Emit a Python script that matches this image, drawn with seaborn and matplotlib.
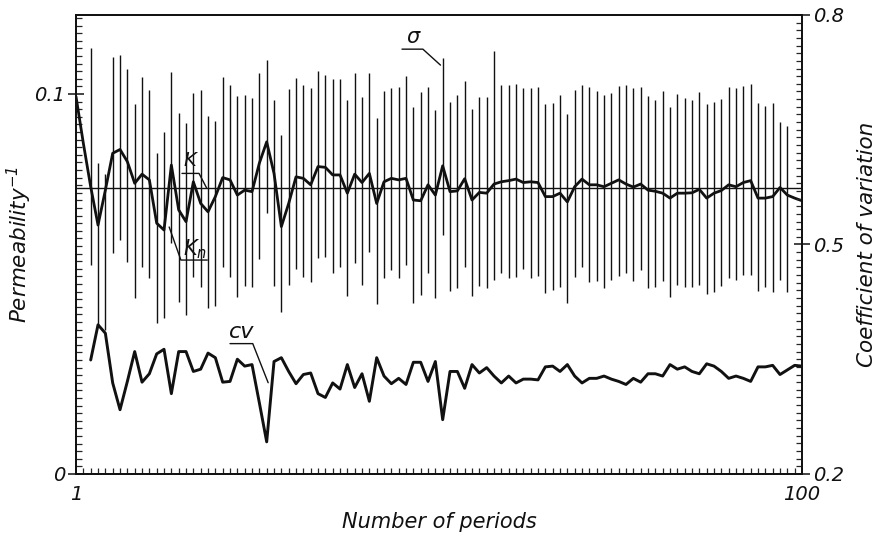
import numpy as np
import pandas as pd
import matplotlib
matplotlib.use("Agg")
import matplotlib.pyplot as plt
from matplotlib.ticker import MultipleLocator, FixedLocator, FixedFormatter
import seaborn as sns

sns.set_style("ticks")
plt.rcParams["font.family"] = ["DejaVu Sans"]
plt.rcParams["font.style"] = "italic"
plt.rcParams["mathtext.fontset"] = "dejavusans"
plt.rcParams["mathtext.default"] = "it"

# ---------------- data ----------------
periods = list(range(1, 101))

kn = [0.0993, 0.0870, 0.0756, 0.0655, 0.0747, 0.0844, 0.0854, 0.0822, 0.0765, 0.0789,
      0.0774, 0.0660, 0.0642, 0.0813, 0.0695, 0.0664, 0.0769, 0.0712, 0.0690, 0.0730,
      0.0780, 0.0774, 0.0734, 0.0747, 0.0743, 0.0818, 0.0874, 0.0791, 0.0651, 0.0712,
      0.0782, 0.0778, 0.0761, 0.0809, 0.0807, 0.0787, 0.0787, 0.0739, 0.0789, 0.0767,
      0.0791, 0.0712, 0.0769, 0.0778, 0.0774, 0.0778, 0.0721, 0.0719, 0.0761, 0.0734,
      0.0811, 0.0743, 0.0745, 0.0777, 0.0721, 0.0741, 0.0739, 0.0763, 0.0769, 0.0772,
      0.0776, 0.0767, 0.0769, 0.0767, 0.0730, 0.0730, 0.0739, 0.0716, 0.0756, 0.0776,
      0.0761, 0.0761, 0.0756, 0.0765, 0.0774, 0.0763, 0.0755, 0.0763, 0.0747, 0.0744,
      0.0739, 0.0726, 0.0739, 0.0739, 0.0740, 0.0749, 0.0726, 0.0739, 0.0746, 0.0761,
      0.0756, 0.0767, 0.0772, 0.0726, 0.0726, 0.0730, 0.0754, 0.0734, 0.0726, 0.0719]

k_mean = 0.0753

sigma_periods = list(range(3, 99))
sigma_high = [0.1120, 0.0818, 0.0789, 0.1097, 0.1103, 0.1065, 0.0974, 0.1046, 0.1011, 0.0846,
              0.0901, 0.1059, 0.0949, 0.0923, 0.1002, 0.1011, 0.0942, 0.0930, 0.1044, 0.1024,
              0.0995, 0.0997, 0.0989, 0.1054, 0.1089, 0.0984, 0.0892, 0.1012, 0.1043, 0.1024,
              0.1015, 0.1061, 0.1050, 0.1039, 0.1039, 0.0984, 0.1054, 0.0993, 0.1054, 0.0936,
              0.1008, 0.1015, 0.1018, 0.1047, 0.0965, 0.1006, 0.1019, 0.0958, 0.1094, 0.0980,
              0.0997, 0.1035, 0.0961, 0.0993, 0.0993, 0.1114, 0.1024, 0.1024, 0.1026, 0.1015,
              0.1015, 0.1019, 0.0974, 0.0977, 0.0997, 0.0947, 0.1011, 0.1024, 0.1018, 0.1009,
              0.0997, 0.1003, 0.1021, 0.1024, 0.1015, 0.1019, 0.0995, 0.0984, 0.1009, 0.0967,
              0.1000, 0.0989, 0.0984, 0.1004, 0.0974, 0.0980, 0.0987, 0.1018, 0.1015, 0.1022,
              0.1026, 0.0976, 0.0968, 0.0976, 0.0926, 0.0917]
sigma_low = [0.0550, 0.0387, 0.0379, 0.0582, 0.0616, 0.0559, 0.0462, 0.0546, 0.0515, 0.0397,
             0.0410, 0.0607, 0.0453, 0.0418, 0.0519, 0.0493, 0.0436, 0.0442, 0.0546, 0.0518,
             0.0467, 0.0495, 0.0491, 0.0565, 0.0686, 0.0495, 0.0427, 0.0497, 0.0539, 0.0519,
             0.0506, 0.0568, 0.0572, 0.0528, 0.0546, 0.0468, 0.0554, 0.0497, 0.0585, 0.0447,
             0.0515, 0.0537, 0.0515, 0.0550, 0.0449, 0.0471, 0.0530, 0.0462, 0.0629, 0.0482,
             0.0489, 0.0544, 0.0469, 0.0495, 0.0489, 0.0511, 0.0528, 0.0515, 0.0519, 0.0539,
             0.0515, 0.0521, 0.0476, 0.0484, 0.0493, 0.0449, 0.0519, 0.0546, 0.0506, 0.0509,
             0.0489, 0.0511, 0.0521, 0.0528, 0.0509, 0.0537, 0.0489, 0.0491, 0.0509, 0.0467,
             0.0497, 0.0493, 0.0491, 0.0497, 0.0474, 0.0480, 0.0495, 0.0515, 0.0511, 0.0524,
             0.0524, 0.0482, 0.0491, 0.0480, 0.0511, 0.0480]

cv_periods = list(range(3, 101))
cv = [0.349, 0.395, 0.384, 0.319, 0.284, 0.321, 0.360, 0.320, 0.331, 0.357,
      0.363, 0.305, 0.360, 0.360, 0.334, 0.337, 0.358, 0.352, 0.320, 0.321,
      0.350, 0.341, 0.343, 0.293, 0.242, 0.347, 0.352, 0.334, 0.318, 0.330,
      0.332, 0.305, 0.300, 0.319, 0.311, 0.343, 0.313, 0.331, 0.295, 0.352,
      0.328, 0.318, 0.325, 0.317, 0.346, 0.346, 0.321, 0.347, 0.271, 0.334,
      0.334, 0.312, 0.343, 0.332, 0.339, 0.328, 0.319, 0.328, 0.319, 0.324,
      0.324, 0.323, 0.340, 0.341, 0.334, 0.343, 0.328, 0.319, 0.325, 0.325,
      0.328, 0.324, 0.321, 0.317, 0.325, 0.320, 0.331, 0.331, 0.328, 0.343,
      0.337, 0.340, 0.334, 0.331, 0.344, 0.341, 0.334, 0.325, 0.328, 0.325,
      0.321, 0.340, 0.340, 0.342, 0.330, 0.336, 0.342, 0.341]

x_ticks = [1, 100]
left_ticks = [0, 0.1]
right_ticks = [0.2, 0.5, 0.8]

# ---------------- figure ----------------
fig = plt.figure(figsize=(8.82, 5.42), dpi=100)
ax = fig.add_axes([0.0862, 0.1255, 0.8231, 0.8469])
ax2 = ax.twinx()

ink = "#111111"
df_kn = pd.DataFrame({"n": periods, "kn": kn})
df_cv = pd.DataFrame({"n": cv_periods, "cv": cv})

ax.vlines(sigma_periods, sigma_low, sigma_high, color=ink, lw=1.0, zorder=2)
ax.axhline(k_mean, color=ink, lw=1.0, zorder=2)
sns.lineplot(data=df_kn, x="n", y="kn", ax=ax, color=ink, lw=2.0, zorder=3)
sns.lineplot(data=df_cv, x="n", y="cv", ax=ax2, color=ink, lw=2.1, zorder=3)

ax.set_xlim(1, 100)
ax.set_ylim(0, 0.1208)
ax2.set_ylim(0.2, 0.8)

for a in (ax, ax2):
    for s in a.spines.values():
        s.set_visible(True)
        s.set_linewidth(1.3)
        s.set_color(ink)

# x ticks
ax.xaxis.set_major_locator(FixedLocator(x_ticks))
ax.xaxis.set_major_formatter(FixedFormatter([str(v) for v in x_ticks]))
ax.xaxis.set_minor_locator(MultipleLocator(1))
ax.tick_params(axis="x", which="major", direction="in", length=8, width=1.1, pad=8,
               labelsize=14, colors=ink)
ax.tick_params(axis="x", which="minor", direction="in", length=4, width=0.9)

# left y ticks
ax.yaxis.set_major_locator(FixedLocator(left_ticks))
ax.yaxis.set_major_formatter(FixedFormatter(["0", "0.1"]))
ax.yaxis.set_minor_locator(MultipleLocator(0.002))
ax.tick_params(axis="y", which="major", direction="inout", length=12, width=1.1, pad=2,
               labelsize=14, colors=ink)
ax.tick_params(axis="y", which="minor", direction="in", length=4, width=0.9)

# right y ticks
ax2.yaxis.set_major_locator(FixedLocator(right_ticks))
ax2.yaxis.set_major_formatter(FixedFormatter([str(v) for v in right_ticks]))
ax2.yaxis.set_minor_locator(MultipleLocator(0.01))
ax2.tick_params(axis="y", which="major", direction="inout", length=12, width=1.1, pad=2,
                labelsize=14, colors=ink)
ax2.tick_params(axis="y", which="minor", direction="in", length=4, width=0.9)

for lab in ax.get_xticklabels() + ax.get_yticklabels() + ax2.get_yticklabels():
    lab.set_fontstyle("italic")

ax.set_xlabel("Number of periods", fontsize=15, style="italic", color=ink)
ax.set_ylabel("Permeability$^{-1}$", fontsize=15.5, style="italic", color=ink)
ax2.set_ylabel("Coefficient of variation", fontsize=15.5, style="italic", color=ink,
               rotation=90)
ax.xaxis.set_label_coords(0.5, -0.083)
ax.yaxis.set_label_coords(-0.058, 0.5)
ax2.yaxis.set_label_coords(1.076, 0.5)

# annotations with leader lines
lead = dict(color=ink, lw=1.0)
ax.text(16.5, 0.0826, "K", fontsize=14, style="italic", ha="center", va="center", color=ink)
ax.plot([15.45, 17.77, 18.8], [0.0791, 0.0791, k_mean], **lead)
ax.text(17.2, 0.0592, "$K_n$", fontsize=15, ha="center", va="center", color=ink)
ax.plot([13.7, 15.3, 18.9], [0.0650, 0.0563, 0.0563], **lead)
ax.text(47.0, 0.1150, "σ", fontsize=15, style="italic", ha="center", va="center", color=ink)
ax.plot([45.45, 48.3, 50.7], [0.1118, 0.1118, 0.1076], **lead)
ax2.text(23.6, 0.3850, "cv", fontsize=16, style="italic", ha="center", va="center", color=ink)
ax2.plot([22.0, 25.1, 27.2], [0.3704, 0.3704, 0.3193], **lead)

fig.savefig("out.png", dpi=100, facecolor="white")
